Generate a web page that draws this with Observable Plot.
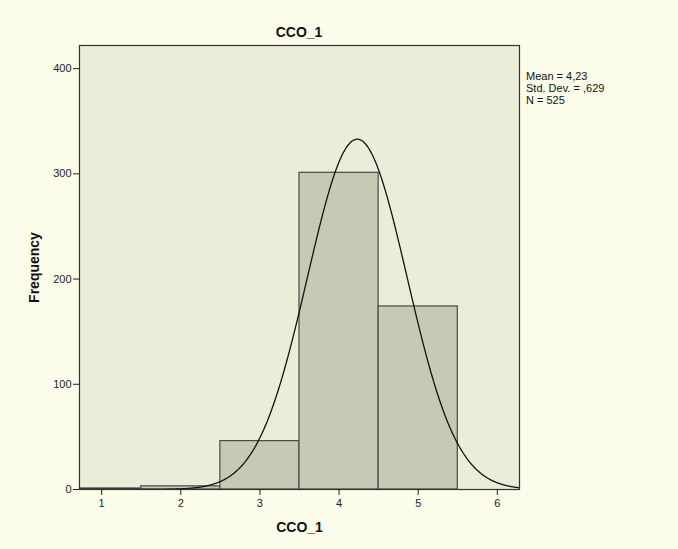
<!DOCTYPE html>
<html>
<head>
<meta charset="utf-8">
<script src="https://cdn.jsdelivr.net/npm/d3@7"></script>
<script src="https://cdn.jsdelivr.net/npm/@observablehq/plot@0.6"></script>
<style>
  html, body { margin: 0; padding: 0; background: #fbfce9; }
  #wrap { position: relative; width: 678px; height: 549px; font-family: "Liberation Sans", Arial, sans-serif; }
  #title { position: absolute; left: 79px; width: 440px; top: 24px; text-align: center; font-size: 14px; font-weight: bold; color: #111; }
  #stats { position: absolute; left: 526px; top: 70px; font-size: 11px; line-height: 12px; color: #111; }
  svg g[aria-label="x-axis label"] text, svg g[aria-label="y-axis label"] text { font-weight: bold; font-size: 14px; fill: #111; }
</style>
</head>
<body>
<div id="wrap">
  <div id="chart"></div>
  <div id="title">CCO_1</div>
  <div id="stats">Mean = 4,23<br>Std. Dev. = ,629<br>N = 525</div>
</div>
<script>
// Data
const categories = [1, 2, 3, 4, 5];
const counts = [1, 3, 46, 301, 174];
const xTicks = [1, 2, 3, 4, 5, 6];
const yTicks = [0, 100, 200, 300, 400];
const mean = 4.23;
const sd = 0.629;
const n = 525;
const binWidth = 1;

const bars = categories.map((c, i) => ({x1: c - binWidth / 2, x2: c + binWidth / 2, y: counts[i]}));
const xDomain = [0.72, 6.28];
const curve = d3.range(xDomain[0], xDomain[1] + 0.001, 0.01).map(x => ({
  x, y: n * binWidth / (sd * Math.sqrt(2 * Math.PI)) * Math.exp(-0.5 * ((x - mean) / sd) ** 2)
}));

const chart = Plot.plot({
  width: 678,
  height: 549,
  marginLeft: 79,
  marginRight: 159,
  marginTop: 45,
  marginBottom: 60,
  style: { background: "transparent", fontFamily: "Liberation Sans, Arial, sans-serif", fontSize: "11px", color: "#222" },
  x: { domain: xDomain },
  y: { domain: [0, 422] },
  marks: [
    Plot.rect([0], { x1: xDomain[0], x2: xDomain[1], y1: 0, y2: 422, fill: "#ebedd9" }),
    Plot.rectY(bars, { x1: "x1", x2: "x2", y: "y", fill: "#c7c9b4", stroke: "#4a4a44", strokeWidth: 1.2, clip: true }),
    Plot.line(curve, { x: "x", y: "y", stroke: "#111", strokeWidth: 1.3, curve: "basis", clip: true }),
    Plot.frame({ stroke: "#333", strokeWidth: 1.2 }),
    Plot.axisY({ ticks: yTicks, tickFormat: "d", tickSize: 6, tickPadding: 2, stroke: "#222", label: "Frequency", labelAnchor: "center", labelArrow: "none", labelOffset: 50 }),
    Plot.axisX({ ticks: xTicks, tickFormat: "d", tickSize: 6, tickPadding: 4, stroke: "#222", label: "CCO_1", labelAnchor: "center", labelArrow: "none", labelOffset: 42 })
  ]
});
document.getElementById("chart").appendChild(chart);
</script>
</body>
</html>
